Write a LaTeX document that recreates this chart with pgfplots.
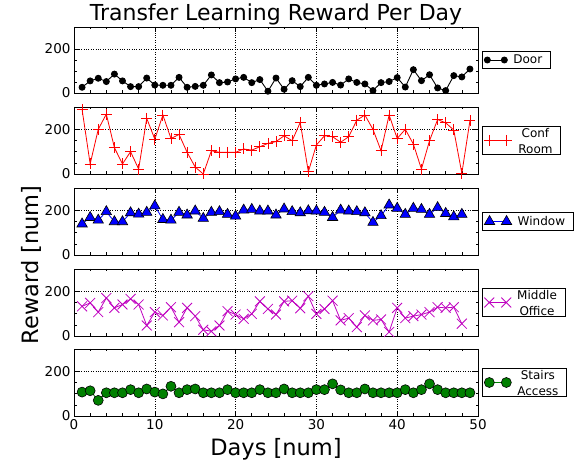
\documentclass[border=0pt]{standalone}
\usepackage{pgfplots}
\pgfplotsset{compat=1.18}
\usepackage{fontspec}
\setmainfont{DejaVu Sans}
\definecolor{mplmag}{rgb}{0.75,0,0.75}
\definecolor{mplgreen}{rgb}{0,0.5,0}
\newcommand{\twoline}[2]{\raisebox{4.5pt}[\height][\depth]{\begin{tabular}{@{}c@{}}#1\\ #2\end{tabular}}}
\pgfplotsset{
  panel/.style={
    scale only axis, width=404pt, anchor=south west,
    xmin=0, xmax=50, ymin=0, ymax=300,
    xtick={0,10,20,30,40,50}, ytick={0,200},
    minor x tick num=4, minor y tick num=3,
    tick align=inside, tick pos=both,
    major tick length=5pt, minor tick length=2.5pt,
    grid=major, major grid style={dotted, black, line width=0.6pt},
    axis line style={line width=0.8pt},
    every tick/.style={black, line width=0.6pt},
    /pgf/number format/assume math mode=true,
    tick label style={font=\fontsize{13.5}{16}\selectfont},
    legend style={at={(1.01,0.5)}, anchor=west, draw=black, line width=0.6pt,
      font=\fontsize{12}{16.5}\selectfont, inner xsep=2pt, inner ysep=1.5pt,
      nodes={inner xsep=6pt},
      cells={anchor=center}},
    legend image code/.code={\draw[mark repeat=1,mark phase=1,#1] plot coordinates {(0pt,0pt) (17pt,0pt)};},
  },
}
\begin{document}
\begin{tikzpicture}
\useasboundingbox (0,0) rectangle (577pt,465pt);
% Door
\begin{axis}[panel, at={(74pt,372pt)}, height=66pt, xticklabels={}]
\addplot[black, line width=0.9pt, mark=*, mark size=3pt, mark options={fill=black}] coordinates {
(1,26)(2,55)(3,67)(4,52)(5,86)(6,55)(7,29)(8,29)(9,68)(10,36)(11,35)(12,35)(13,71)(14,26)(15,30)(16,35)(17,82)(18,47)(19,50)(20,64)(21,71)(22,47)(23,61)(24,8)(25,68)(26,17)(27,56)(28,29)(29,71)(30,35)(31,41)(32,48)(33,36)(34,64)(35,48)(36,41)(37,11)(38,47)(39,52)(40,70)(41,27)(42,106)(43,56)(44,83)(45,23)(46,11)(47,79)(48,73)(49,109)};
\addlegendentry{Door}
\end{axis}
% Conf Room
\begin{axis}[panel, at={(74pt,291pt)}, height=67pt, xticklabels={}]
\addplot[red, line width=0.8pt, mark=+, mark size=5.5pt] coordinates {
(1,289)(2,45)(3,200)(4,268)(5,118)(6,45)(7,100)(8,22)(9,249)(10,156)(11,264)(12,159)(13,177)(14,97)(15,31)(16,0)(17,104)(18,97)(19,97)(20,97)(21,112)(22,107)(23,122)(24,137)(25,145)(26,171)(27,149)(28,231)(29,10)(30,130)(31,171)(32,167)(33,142)(34,167)(35,241)(36,264)(37,200)(38,104)(39,264)(40,159)(41,200)(42,134)(43,22)(44,149)(45,244)(46,229)(47,197)(48,3)(49,238)};
\addlegendentry{\twoline{Conf}{Room}}
\end{axis}
% Window
\begin{axis}[panel, at={(74pt,210pt)}, height=67pt, xticklabels={}]
\addplot[blue, line width=0.8pt, mark=triangle*, mark size=6pt, mark options={fill=blue, draw=black, line width=0.6pt}] coordinates {
(1,139)(2,168)(3,156)(4,194)(5,149)(6,149)(7,189)(8,183)(9,191)(10,220)(11,159)(12,156)(13,191)(14,179)(15,197)(16,164)(17,191)(18,194)(19,182)(20,174)(21,201)(22,204)(23,197)(24,197)(25,179)(26,206)(27,194)(28,189)(29,198)(30,197)(31,191)(32,168)(33,201)(34,197)(35,194)(36,189)(37,146)(38,176)(39,224)(40,209)(41,182)(42,209)(43,204)(44,182)(45,212)(46,186)(47,171)(48,182)};
\addlegendentry{Window}
\end{axis}
% Middle Office
\begin{axis}[panel, at={(74pt,129pt)}, height=67pt, xticklabels={}]
\addplot[mplmag, line width=0.8pt, mark=x, mark size=7pt] coordinates {
(1,133)(2,148)(3,107)(4,170)(5,126)(6,141)(7,166)(8,141)(9,47)(10,107)(11,92)(12,129)(13,62)(14,126)(15,89)(16,28)(17,21)(18,47)(19,111)(20,96)(21,77)(22,99)(23,155)(24,121)(25,96)(26,155)(27,158)(28,124)(29,178)(30,99)(31,121)(32,158)(33,70)(34,80)(35,40)(36,92)(37,70)(38,74)(39,18)(40,126)(41,80)(42,89)(43,96)(44,107)(45,129)(46,126)(47,129)(48,55)};
\addlegendentry{\twoline{Middle}{Office}}
\end{axis}
% Stairs Access
\begin{axis}[panel, at={(74pt,49pt)}, height=67pt]
\addplot[mplgreen, line width=0.8pt, mark=*, mark size=5pt, mark options={fill=mplgreen, draw=black, line width=0.6pt}] coordinates {
(1,107)(2,113)(3,70)(4,104)(5,104)(6,104)(7,118)(8,104)(9,121)(10,107)(11,99)(12,133)(13,104)(14,118)(15,121)(16,104)(17,104)(18,104)(19,118)(20,104)(21,104)(22,104)(23,118)(24,104)(25,104)(26,121)(27,104)(28,104)(29,104)(30,118)(31,118)(32,144)(33,117)(34,104)(35,104)(36,121)(37,104)(38,104)(39,104)(40,104)(41,118)(42,104)(43,118)(44,144)(45,118)(46,104)(47,104)(48,104)(49,104)};
\addlegendentry{\twoline{Stairs}{Access}}
\end{axis}
\node at (276pt,451pt) {\fontsize{22}{26}\selectfont Transfer Learning Reward Per Day};
\node[rotate=90] at (31pt,200pt) {\fontsize{22.5}{26}\selectfont Reward [num]};
\node at (276pt,16pt) {\fontsize{22.5}{26}\selectfont Days [num]};
\end{tikzpicture}
\end{document}
